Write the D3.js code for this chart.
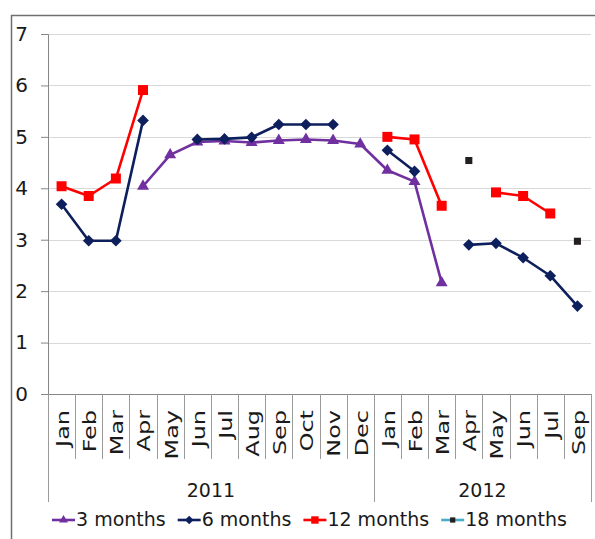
<!DOCTYPE html>
<html><head><meta charset="utf-8">
<script src="https://cdn.jsdelivr.net/npm/d3@7"></script>
<style>
html,body{margin:0;padding:0;background:#fff;}
svg{display:block;font-family:"DejaVu Sans",sans-serif;}
</style></head>
<body><svg id="chart" width="595" height="539"></svg>
<script>
// ---- data ----
const months = ["Jan","Feb","Mar","Apr","May","Jun","Jul","Aug","Sep","Oct","Nov","Dec",
                "Jan","Feb","Mar","Apr","May","Jun","Jul","Sep"];
const years = [{label:"2011", start:0, end:12},{label:"2012", start:12, end:20}];
const yTicks = [0,1,2,3,4,5,6,7];
const threeMonths = [null,null,null,4.04,4.65,4.90,4.92,4.89,4.93,4.95,4.93,4.86,
                     4.35,4.13,2.16,null,null,null,null,null];
const sixMonths   = [3.69,2.98,2.98,5.32,null,4.95,4.96,4.99,5.24,5.24,5.24,null,
                     4.74,4.33,null,2.90,2.93,2.65,2.30,1.71];
const twelveMonths= [4.04,3.85,4.19,5.91,null,null,null,null,null,null,null,null,
                     5.00,4.95,3.66,null,3.92,3.85,3.51,null];
const eighteenMonths=[null,null,null,null,null,null,null,null,null,null,null,null,
                     null,null,null,4.54,null,null,null,2.97];
const seriesNames = ["3 months","6 months","12 months","18 months"];

const series = [
  {name:seriesNames[0], values:threeMonths, color:"#7030A0", marker:"triangle"},
  {name:seriesNames[1], values:sixMonths, color:"#0D1F5C", marker:"diamond"},
  {name:seriesNames[2], values:twelveMonths, color:"#FF0000", marker:"square"},
  {name:seriesNames[3], values:eighteenMonths, color:"#231F20", marker:"smallsquare", lineColor:"#4BACC6"}
];

const svg = d3.select("#chart");
const pLeft = 48, pRight = 591, pTop = 34, pBottom = 394;

const x = d3.scaleBand().domain(d3.range(months.length)).range([pLeft, pRight]).padding(0);
const y = d3.scaleLinear().domain([0,7]).range([pBottom, pTop]);

// outer frame
svg.append("line").attr("x1",11).attr("x2",595).attr("y1",15.5).attr("y2",15.5).attr("stroke","#6f6f6f").attr("stroke-width",1.5);
svg.append("line").attr("x1",11.5).attr("x2",11.5).attr("y1",15).attr("y2",539).attr("stroke","#6f6f6f").attr("stroke-width",1.5);

// gridlines
svg.append("g").selectAll("line").data(yTicks.filter(d=>d>0)).join("line")
  .attr("x1",pLeft).attr("x2",pRight).attr("y1",d=>Math.round(y(d))+0.5).attr("y2",d=>Math.round(y(d))+0.5)
  .attr("stroke","#d9d9d9").attr("stroke-width",1);

// y axis
const yAxis = d3.axisLeft(y).tickValues(yTicks).tickSize(7).tickPadding(13).tickFormat(d3.format("d"));
const gy = svg.append("g").attr("transform",`translate(${pLeft},0)`).call(yAxis);
gy.select(".domain").attr("stroke","#868686");
gy.selectAll(".tick line").attr("stroke","#868686");
gy.selectAll(".tick text").attr("font-size","20px").attr("fill","#1a1a1a").attr("font-family","DejaVu Sans");

// x axis line
svg.append("line").attr("x1",pLeft).attr("x2",pRight).attr("y1",pBottom+0.5).attr("y2",pBottom+0.5).attr("stroke","#868686");

// month separators
const bw = x.bandwidth();
const bounds = d3.range(months.length+1);
const groupBounds = new Set(years.flatMap(d=>[d.start,d.end]));
svg.append("g").selectAll("line").data(bounds).join("line")
  .attr("x1",i=>Math.round(pLeft+i*bw)+0.5).attr("x2",i=>Math.round(pLeft+i*bw)+0.5)
  .attr("y1",pBottom).attr("y2",i=>groupBounds.has(i)?502:459)
  .attr("stroke","#9a9a9a").attr("stroke-width",1);

// month labels
svg.append("g").selectAll("text").data(months).join("text")
  .attr("transform",(d,i)=>`translate(${x(i)+bw/2+1},410) rotate(-90) scale(1.33,1)`)
  .attr("text-anchor","end").attr("dominant-baseline","central")
  .attr("font-size","18px").attr("fill","#1a1a1a").text(d=>d);

// year labels
svg.append("g").selectAll("text").data(years).join("text")
  .attr("x",d=>(pLeft+d.start*bw + pLeft+d.end*bw)/2).attr("y",497)
  .attr("text-anchor","middle").attr("font-size","19px").attr("fill","#1a1a1a").text(d=>d.label);

// symbol helper
function sym(type, scale){
  scale = scale||1;
  if(type==="triangle") return d3.symbol(d3.symbolTriangle, 62*scale)();
  if(type==="diamond") return d3.symbol(d3.symbolSquare, 68*scale)();
  if(type==="square") return d3.symbol(d3.symbolSquare, 100*scale)();
  return d3.symbol(d3.symbolSquare, 50*scale)();
}
function symTransform(type, cx, cy){
  return type==="diamond" ? `translate(${cx},${cy}) rotate(45)` : `translate(${cx},${cy})`;
}

// series
const lineGen = d3.line().defined(d=>d.v!=null).x(d=>x(d.i)+bw/2).y(d=>y(d.v));
series.forEach(s=>{
  const pts = s.values.map((v,i)=>({i,v}));
  if(s.name!=="18 months"){
    svg.append("path").datum(pts).attr("d",lineGen).attr("fill","none")
      .attr("stroke",s.color).attr("stroke-width",2.6).attr("stroke-linejoin","round");
  }
  svg.append("g").selectAll("path").data(pts.filter(d=>d.v!=null)).join("path")
    .attr("d",sym(s.marker)).attr("transform",d=>symTransform(s.marker, x(d.i)+bw/2, y(d.v)))
    .attr("fill",s.color);
});

// legend
const lg = svg.append("g");
let lx = 52;
const ly = 520;
series.forEach(s=>{
  lg.append("line").attr("x1",lx).attr("x2",lx+23).attr("y1",ly).attr("y2",ly)
    .attr("stroke",s.lineColor||s.color).attr("stroke-width",2.6);
  lg.append("path").attr("d",sym(s.marker,0.55)).attr("transform",symTransform(s.marker,lx+11.5,ly)).attr("fill",s.color);
  const t = lg.append("text").attr("x",lx+24).attr("y",ly+6).attr("font-size","19px").attr("fill","#1a1a1a").text(s.name);
  lx = lx + 24 + t.node().getComputedTextLength() + 12;
});
</script></body></html>
